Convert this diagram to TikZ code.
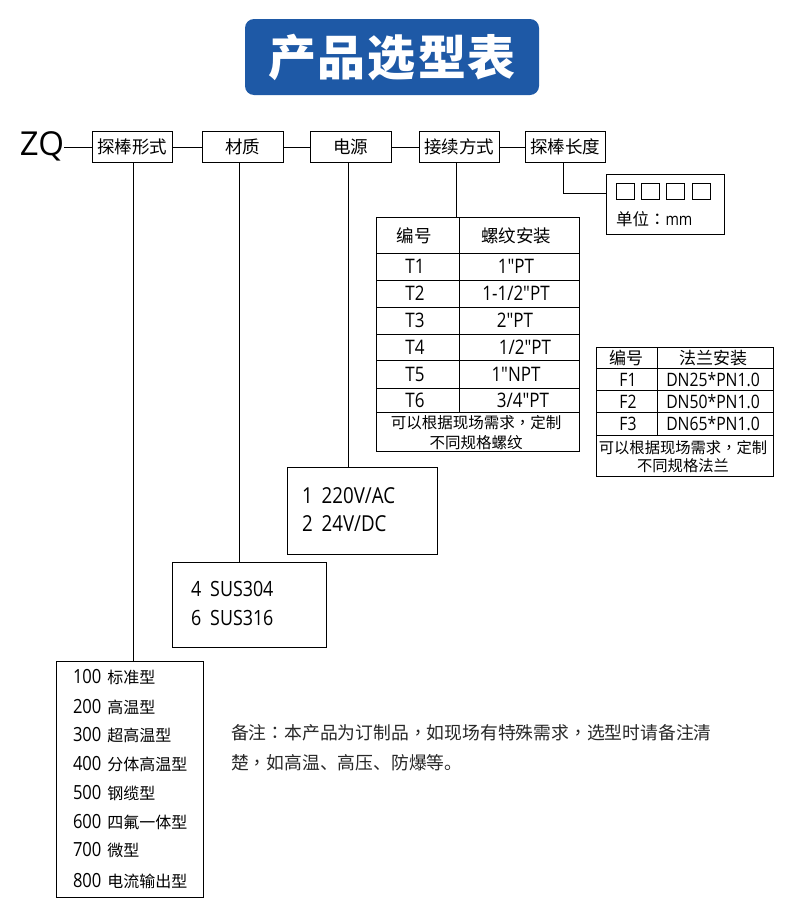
\documentclass[tikz,border=0pt]{standalone}
\usepackage{fontspec}
\setmainfont{Noto Sans CJK SC}
\newfontfamily\tc{Noto Sans CJK TC}
\newfontfamily\lat{Open Sans}[FakeStretch=0.85]
\newfontfamily\latw{Open Sans}
\usetikzlibrary{calc}
\definecolor{titleblue}{RGB}{30,89,166}
\definecolor{notegray}{RGB}{40,40,40}
\newcommand{\fs}[1]{\fontsize{#1}{#1}\selectfont}
\newcommand{\lt}[2]{{\lat\fs{#1}#2}}
\newcommand{\cma}{{\tc ，}}
\newcommand{\cln}{{\tc ：}}
\begin{document}
\begin{tikzpicture}[x=1pt,y=-1pt,
  every node/.style={inner sep=0pt, outer sep=0pt},
  frame/.style={draw=black, line width=0.9pt},
  topbox/.style={frame, minimum width=80pt, minimum height=31pt, font=\fs{17.5}},
  link/.style={draw=black, line width=0.9pt},
  cell/.style={font=\fs{17.5}},
  tnote/.style={font=\fs{15.5}},
  fnote/.style={font=\fs{15.3}},
  item/.style={anchor=west, font=\fs{16}},
]
\useasboundingbox (0,0) rectangle (790,910);
\fill[white] (0,0) rectangle (790,910);

% title
\node[fill=titleblue, rounded corners=9pt, minimum width=294pt, minimum height=76pt,
      text=white, font=\fs{48}\bfseries] (title) at (392,57) {产\hspace{2pt}品\hspace{2pt}选\hspace{2pt}型\hspace{2pt}表};

% code row
\node[anchor=east, font=\latw\fs{33}] (zq) at (64,146) {ZQ};
\node[topbox] (b1) at (132,147) {探棒形式};
\node[topbox, minimum width=81pt] (b2) at (242.5,147) {材质};
\node[topbox, minimum width=81pt] (b3) at (350.5,147) {电源};
\node[topbox] (b4) at (459,147) {接续方式};
\node[topbox] (b5) at (565,147) {探棒长度};
\draw[link] (zq.east |- b1.west) -- (b1.west);
\draw[link] (b1) -- (b2);
\draw[link] (b2) -- (b3);
\draw[link] (b3) -- (b4);
\draw[link] (b4) -- (b5);

% option boxes
\node[frame, minimum width=118pt, minimum height=60pt] (mm) at (665,204) {};
\node[frame, minimum width=203pt, minimum height=234pt] (ttab) at (477.5,334) {};
\node[frame, minimum width=177pt, minimum height=129pt] (ftab) at (684.5,411.5) {};
\node[frame, minimum width=150pt, minimum height=87pt] (pbox) at (362,510.5) {};
\node[frame, minimum width=154pt, minimum height=85pt] (sus) at (249,604.5) {};
\node[frame, minimum width=147pt, minimum height=236pt] (tbox) at (129.5,779) {};

% connectors
\coordinate (c1) at ([xshift=1pt]b1.south);
\coordinate (c2) at ([xshift=-3.5pt]b2.south);
\coordinate (c3) at ([xshift=-2.5pt]b3.south);
\coordinate (c4) at ([xshift=-3pt]b4.south);
\coordinate (c5) at ([xshift=-2pt]b5.south);
\coordinate (m5) at ([yshift=11pt]mm.west);
\draw[link] (c1) -- (c1 |- tbox.north);
\draw[link] (c2) -- (c2 |- sus.north);
\draw[link] (c3) -- (c3 |- pbox.north);
\draw[link] (c4) -- (c4 |- ttab.north);
\draw[link] (c5) |- (m5);

% length box
\foreach \x in {616,641,666,692} \draw[frame] (\x,183) rectangle ++(18,16);
\node[anchor=west, font=\fs{16.5}] (unit) at (616,219) {单位\cln\lt{17}{mm}};

% thread table
\foreach \y in {253,280,307,334,360,388,412} \draw[link] (376,\y) -- (579,\y);
\draw[link] (459,217) -- (459,412);
\node[cell] (th1) at (414,236) {编号};
\node[cell] (th2) at (516,236) {螺纹安装};
\node (t1a) at (415,266.5) {\lt{20}{T1}};
\node (t1b) at (516,266.5) {\lt{20}{1"PT}};
\node (t2a) at (415,293.5) {\lt{20}{T2}};
\node (t2b) at (516,293.5) {\lt{20}{1-1/2"PT}};
\node (t3a) at (415,320.5) {\lt{20}{T3}};
\node (t3b) at (515,320.5) {\lt{20}{2"PT}};
\node (t4a) at (415,347) {\lt{20}{T4}};
\node (t4b) at (525,347) {\lt{20}{1/2"PT}};
\node (t5a) at (415,374) {\lt{20}{T5}};
\node (t5b) at (516,374) {\lt{20}{1"NPT}};
\node (t6a) at (415,400.5) {\lt{20}{T6}};
\node (t6b) at (523,400.5) {\lt{20}{3/4"PT}};
\node[tnote] (tn1) at (476,423) {可以根据现场需求\cma 定制};
\node[tnote] (tn2) at (476,443) {不同规格螺纹};

% flange table
\foreach \y in {368,390,412,435} \draw[link] (596,\y) -- (773,\y);
\draw[link] (657,347) -- (657,435);
\node[cell, font=\fs{17}] (fh1) at (626,358) {编号};
\node[cell, font=\fs{17}] (fh2) at (713,358) {法兰安装};
\node (f1a) at (628,379.5) {\lt{18.5}{F1}};
\node (f1b) at (713,379.5) {\lt{18.5}{DN25*PN1.0}};
\node (f2a) at (628,401.5) {\lt{18.5}{F2}};
\node (f2b) at (713,401.5) {\lt{18.5}{DN50*PN1.0}};
\node (f3a) at (628,424) {\lt{18.5}{F3}};
\node (f3b) at (713,424) {\lt{18.5}{DN65*PN1.0}};
\node[fnote] (fn1) at (683,448) {可以根据现场需求\cma 定制};
\node[fnote] (fn2) at (683,466) {不同规格法兰};

% power box
\node[anchor=west] (p1) at (302,496) {\lt{22}{1\hspace{9pt}220V/AC}};
\node[anchor=west] (p2) at (302,524) {\lt{22}{2\hspace{9pt}24V/DC}};

% material box
\node[anchor=west] (s1) at (191,589) {\lt{21}{4\hspace{9pt}SUS304}};
\node[anchor=west] (s2) at (191,618) {\lt{21}{6\hspace{9pt}SUS316}};

% type box
\node[item] (i1) at (73,677) {\lt{19.5}{100}\hspace{6pt}标准型};
\node[item] (i2) at (73,707) {\lt{19.5}{200}\hspace{6pt}高温型};
\node[item] (i3) at (73,735.5) {\lt{19.5}{300}\hspace{6pt}超高温型};
\node[item] (i4) at (73,764) {\lt{19.5}{400}\hspace{6pt}分体高温型};
\node[item] (i5) at (73,793) {\lt{19.5}{500}\hspace{6pt}钢缆型};
\node[item] (i6) at (73,822) {\lt{19.5}{600}\hspace{6pt}四氟一体型};
\node[item] (i7) at (73,850.5) {\lt{19.5}{700}\hspace{6pt}微型};
\node[item] (i8) at (73,881) {\lt{19.5}{800}\hspace{6pt}电流输出型};

% remark
\node[anchor=west, font=\fs{17.8}, text=notegray] (r1) at (231,733) {备注\cln 本产品为订制品\cma 如现场有特殊需求\cma 选型时请备注清};
\node[anchor=west, font=\fs{17.8}, text=notegray] (r2) at (231,763) {楚\cma 如高温、高压、防爆等。};
\end{tikzpicture}
\end{document}
